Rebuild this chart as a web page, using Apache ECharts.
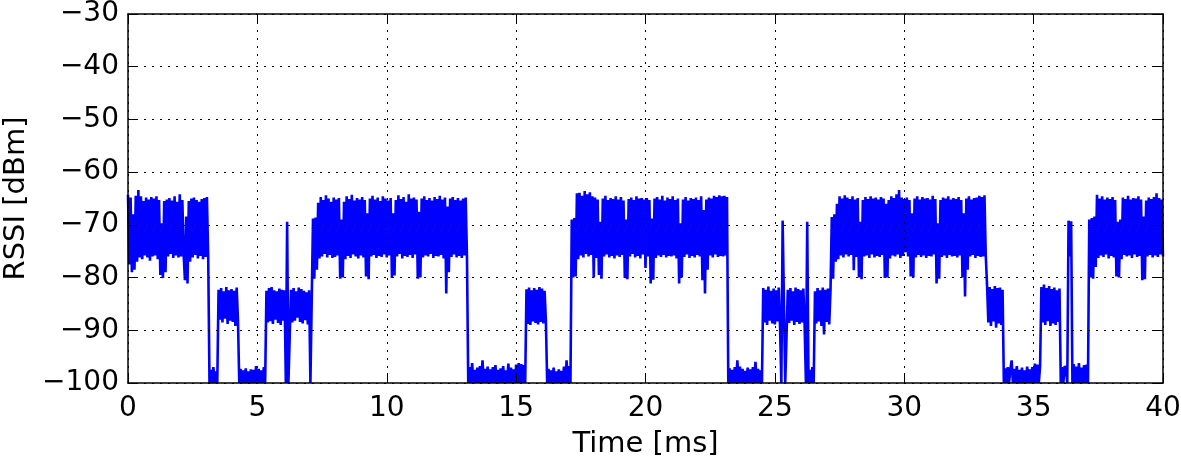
<!DOCTYPE html>
<html><head><meta charset="utf-8">
<script src="https://cdn.jsdelivr.net/npm/echarts@6/dist/echarts.min.js"></script>
<style>html,body{margin:0;padding:0;background:#fff}#c{width:1181px;height:461px}</style>
</head><body><div id="c"></div>
<script>
// Sampling interval of the trace (ms)
const timeStepMs = 0.05;
// Axis ranges and tick steps
const xRange = [0, 40];
const xTickStep = 5;
const yRange = [-100, -30];
const yTickStep = 10;
const xTitle = 'Time [ms]';
const yTitle = 'RSSI [dBm]';

// RSSI samples (dBm), one line per millisecond (20 samples each)
const rssiDbm = [
-64.3,-77.5,-64.8,-79.0,-68.0,-78.5,-64.5,-77.0,-63.4,-76.2,-64.6,-76.5,-65.5,-75.8,-64.8,-76.2,-65.2,-76.8,-64.7,-76.0,
-65.0,-75.8,-64.6,-76.5,-65.3,-79.5,-69.7,-80.1,-65.5,-79.0,-65.2,-76.0,-64.9,-75.5,-65.4,-76.3,-64.6,-75.8,-65.6,-76.2,
-64.2,-76.0,-65.3,-75.5,-80.5,-68.4,-81.1,-65.5,-77.0,-65.0,-76.2,-64.8,-75.7,-65.3,-76.4,-65.6,-75.9,-65.1,-76.5,-64.9,
-76.1,-64.7,-76.3,-100,-97.5,-100,-97.0,-100,-97.8,-100,-82.3,-88.0,-82.0,-88.5,-82.6,-87.8,-81.8,-88.8,-82.4,-88.2,
-82.2,-88.4,-82.5,-89.2,-81.9,-88.0,-100,-97.3,-100,-97.6,-100,-97.2,-100,-97.8,-100,-97.4,-100,-97.5,-100,-96.8,
-100,-97.3,-100,-97.6,-100,-97.0,-100,-82.5,-88.5,-82.0,-88.3,-81.8,-88.8,-82.4,-88.0,-82.6,-88.6,-82.1,-89.0,-82.3,
-88.2,-82.4,-100,-69.4,-100,-100,-82.3,-88.5,-82.0,-88.2,-82.6,-87.6,-81.9,-88.4,-82.2,-88.7,-82.5,-88.1,-82.8,-88.9,
-82.4,-100,-100,-68.8,-80.2,-68.6,-78.5,-65.8,-76.4,-64.7,-76.0,-65.3,-75.5,-64.4,-76.2,-65.0,-75.7,-65.6,-76.3,-64.8,
-76.1,-65.2,-75.8,-64.9,-80.2,-69.0,-80.0,-65.6,-76.5,-64.6,-75.9,-65.1,-76.3,-64.3,-75.6,-65.4,-76.0,-64.9,-76.4,-65.2,
-75.8,-64.7,-76.2,-65.3,-79.8,-67.8,-80.3,-65.0,-76.0,-64.5,-75.7,-65.2,-76.3,-64.8,-75.9,-65.5,-76.1,-64.6,-75.6,-65.0,
-76.2,-65.4,-75.8,-64.9,-80.1,-67.8,-79.6,-65.3,-76.0,-64.4,-75.5,-65.1,-76.4,-64.7,-75.9,-65.6,-76.1,-64.2,-75.7,-65.0,
-76.3,-64.8,-75.6,-65.2,-80.2,-67.5,-80.0,-65.0,-76.2,-64.6,-75.8,-65.3,-76.0,-64.9,-75.5,-65.4,-76.3,-64.7,-75.9,-65.1,
-76.0,-64.5,-75.7,-65.2,-76.4,-64.8,-83.0,-66.5,-79.0,-65.0,-76.1,-64.7,-75.6,-65.3,-76.2,-64.9,-75.9,-65.4,-76.3,-65.0,
-75.8,-64.8,-76.0,-100,-97.0,-100,-96.2,-100,-97.5,-100,-97.1,-100,-96.8,-100,-95.7,-100,-97.3,-100,-96.9,-100,
-97.4,-100,-97.0,-100,-96.6,-100,-97.5,-100,-97.2,-100,-96.8,-100,-97.6,-100,-96.3,-100,-97.1,-100,-97.4,-100,
-96.5,-100,-96.2,-100,-96.4,-100,-96.6,-100,-82.2,-88.8,-81.9,-89.0,-82.4,-88.3,-82.0,-88.6,-82.3,-88.9,-81.8,-88.4,
-82.1,-88.7,-82.5,-88.2,-100,-97.3,-100,-97.6,-100,-97.1,-100,-97.8,-100,-97.4,-100,-97.7,-100,-96.9,-100,-95.7,
-100,-96.8,-100,-69.0,-80.0,-68.7,-79.8,-64.0,-76.5,-63.9,-75.8,-64.5,-76.2,-63.6,-75.5,-64.2,-76.0,-63.8,-75.7,-64.6,
-80.0,-64.8,-76.3,-65.2,-79.5,-69.4,-80.2,-65.0,-76.0,-64.5,-75.6,-65.3,-76.2,-64.9,-75.9,-65.1,-76.4,-64.6,-75.8,-65.2,
-76.1,-64.7,-75.7,-65.4,-80.1,-69.0,-80.3,-65.1,-76.0,-64.8,-75.5,-65.3,-76.2,-64.6,-75.9,-65.0,-76.4,-64.9,-75.6,-65.2,
-78.2,-64.9,-76.0,-65.3,-81.1,-68.8,-80.4,-65.0,-76.3,-64.7,-75.8,-65.2,-76.1,-64.5,-75.7,-65.4,-76.2,-64.8,-75.9,-65.1,
-76.0,-64.6,-75.8,-65.3,-76.4,-65.0,-81.1,-69.7,-80.0,-65.2,-76.1,-64.7,-75.6,-65.4,-76.3,-64.9,-75.9,-65.1,-76.2,-64.8,
-75.7,-65.3,-76.0,-64.6,-80.5,-67.2,-83.0,-65.2,-78.5,-64.8,-75.8,-65.0,-76.2,-64.5,-75.6,-64.7,-76.1,-64.4,-75.9,-64.6,
-76.0,-64.5,-75.8,-64.7,-100,-97.2,-100,-97.5,-100,-97.0,-100,-95.7,-100,-96.9,-100,-97.3,-100,-97.7,-100,-97.1,
-100,-97.4,-100,-97.0,-100,-96.0,-100,-97.3,-100,-97.6,-100,-82.0,-88.5,-82.3,-89.0,-81.7,-88.2,-82.5,-88.7,-82.1,
-88.9,-82.4,-88.3,-81.9,-89.4,-100,-69.2,-69.5,-100,-100,-82.3,-88.6,-82.0,-88.2,-82.6,-89.0,-81.9,-88.4,-82.2,-88.8,
-82.4,-88.5,-82.1,-89.1,-100,-69.4,-100,-97.5,-100,-97.0,-100,-82.6,-88.7,-82.0,-88.3,-82.4,-89.2,-81.9,-90.8,-82.3,
-88.4,-82.1,-88.9,-82.4,-68.5,-80.2,-68.0,-77.0,-66.0,-76.5,-64.6,-75.8,-65.0,-76.2,-64.4,-75.6,-64.8,-76.0,-65.1,-75.7,
-64.6,-78.6,-65.2,-76.1,-64.9,-80.0,-69.4,-80.3,-65.3,-76.0,-64.7,-75.8,-65.1,-76.3,-64.6,-75.6,-65.0,-76.2,-64.8,-75.9,
-65.2,-76.1,-64.7,-75.7,-65.0,-80.1,-66.0,-80.0,-65.3,-76.4,-64.6,-75.8,-64.9,-76.0,-64.2,-75.6,-63.4,-76.3,-64.8,-75.9,
-65.1,-75.2,-64.8,-76.0,-65.3,-79.8,-67.8,-80.0,-65.0,-76.2,-64.6,-75.7,-65.2,-76.1,-64.7,-75.8,-65.0,-76.3,-64.9,-75.9,
-65.2,-76.0,-64.5,-75.6,-65.1,-81.1,-69.7,-80.2,-65.3,-76.1,-64.8,-75.8,-65.0,-76.3,-64.6,-75.7,-65.2,-76.0,-64.9,-75.9,
-65.1,-76.2,-64.7,-75.8,-65.3,-80.0,-67.8,-83.6,-65.0,-78.5,-64.6,-76.0,-65.2,-75.7,-64.9,-76.3,-64.8,-75.9,-64.5,-76.1,
-64.7,-76.0,-64.4,-75.8,-81.4,-88.5,-81.8,-89.2,-82.2,-88.3,-81.6,-89.5,-82.0,-88.7,-81.9,-89.0,-82.3,-100,-97.2,-100,
-97.0,-100,-97.4,-95.7,-100,-97.3,-100,-96.8,-100,-97.5,-100,-97.1,-100,-97.6,-100,-96.9,-100,-97.4,-100,-97.0,
-100,-96.3,-100,-96.5,-100,-96.8,-81.8,-88.5,-81.3,-89.0,-82.0,-88.3,-81.6,-89.2,-82.2,-88.7,-81.9,-89.0,-82.4,-88.4,
-82.1,-100,-97.0,-100,-96.8,-97.2,-100,-69.2,-76.0,-69.3,-100,-96.4,-100,-96.9,-100,-96.2,-100,-97.1,-100,-96.6,
-100,-96.5,-100,-69.0,-80.0,-68.7,-80.2,-68.4,-78.0,-64.3,-76.3,-65.0,-75.8,-64.6,-76.1,-65.2,-75.6,-64.8,-76.4,-65.1,
-75.9,-64.7,-76.2,-65.3,-79.8,-69.4,-80.0,-69.0,-76.5,-64.8,-75.7,-65.1,-76.0,-64.5,-75.8,-65.2,-76.3,-64.9,-75.6,-65.0,
-76.1,-64.6,-75.9,-65.2,-80.5,-68.4,-80.3,-65.4,-76.0,-64.8,-75.7,-65.1,-76.2,-64.7,-75.8,-64.0,-76.1,-64.9,-75.6,-65.2,
-76.0
];

const points = rssiDbm.map((v, i) => [+(i * timeStepMs).toFixed(2), v]);

const FONT = 'DejaVu Sans';
const TICK_FS = 28;
const TITLE_FS = 29;
const minusFmt = v => String(v).replace('-', '\u2212');

const gridLine = { show: true, lineStyle: { color: '#000', width: 1, type: [2, 6] } };
const tick = { show: true, inside: true, length: 10, lineStyle: { color: '#000', width: 1 } };
const spine = { show: true, onZero: false, lineStyle: { color: '#000', width: 1.5 } };

const chart = echarts.init(document.getElementById('c'), null, { renderer: 'canvas' });
chart.setOption({
  animation: false,
  backgroundColor: '#fff',
  grid: { left: 128, right: 18, top: 14, bottom: 78, containLabel: false, outerBoundsMode: 'none' },
  xAxis: [{
    type: 'value', position: 'bottom', min: xRange[0], max: xRange[1], interval: xTickStep, z: 5,
    axisLine: spine, axisTick: tick, splitLine: gridLine,
    axisLabel: { color: '#000', fontFamily: FONT, fontSize: TICK_FS, margin: 12, formatter: minusFmt },
    name: xTitle, nameLocation: 'middle', nameGap: 47,
    nameTextStyle: { color: '#000', fontFamily: FONT, fontSize: TITLE_FS }
  }, {
    type: 'value', position: 'top', min: xRange[0], max: xRange[1], interval: xTickStep, z: 5,
    axisLine: spine, axisTick: tick, splitLine: { show: false }, axisLabel: { show: false }
  }],
  yAxis: [{
    type: 'value', position: 'left', min: yRange[0], max: yRange[1], interval: yTickStep, z: 5,
    axisLine: spine, axisTick: tick, splitLine: gridLine,
    axisLabel: { color: '#000', fontFamily: FONT, fontSize: TICK_FS, margin: 9, formatter: minusFmt },
    name: yTitle, nameLocation: 'middle', nameGap: 97, nameRotate: 90,
    nameTextStyle: { color: '#000', fontFamily: FONT, fontSize: TITLE_FS }
  }, {
    type: 'value', position: 'right', min: yRange[0], max: yRange[1], interval: yTickStep, z: 5,
    axisLine: spine, axisTick: tick, splitLine: { show: false }, axisLabel: { show: false }
  }],
  series: [{
    type: 'line', xAxisIndex: 0, yAxisIndex: 0, data: points,
    showSymbol: false, symbol: 'none', sampling: null, clip: true, z: 2,
    lineStyle: { color: '#0000ff', width: 2.6 }
  }]
});
</script>
</body></html>
